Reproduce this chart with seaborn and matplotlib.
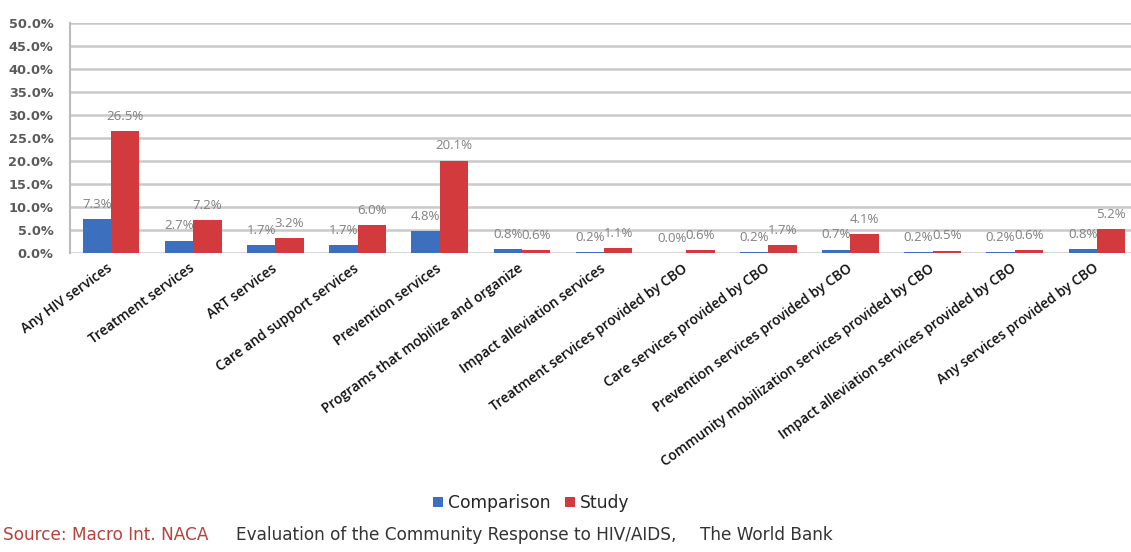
import matplotlib
matplotlib.use("Agg")
import matplotlib.pyplot as plt
from matplotlib.ticker import MultipleLocator, FuncFormatter
import seaborn as sns
import pandas as pd

# Share of respondents receiving each type of service
categories = [
    "Any HIV services",
    "Treatment services",
    "ART services",
    "Care and support services",
    "Prevention services",
    "Programs that mobilize and organize",
    "Impact alleviation services",
    "Treatment services provided by CBO",
    "Care services provided by CBO",
    "Prevention services provided by CBO",
    "Community mobilization services provided by CBO",
    "Impact alleviation services provided by CBO",
    "Any services provided by CBO",
]
comparison = [7.3, 2.7, 1.7, 1.7, 4.8, 0.8, 0.2, 0.0, 0.2, 0.7, 0.2, 0.2, 0.8]
study = [26.5, 7.2, 3.2, 6.0, 20.1, 0.6, 1.1, 0.6, 1.7, 4.1, 0.5, 0.6, 5.2]
groups = ["Comparison", "Study"]
colors = ["#3D6FBF", "#D23A3D"]

df = pd.DataFrame({
    "category": categories * 2,
    "value": comparison + study,
    "group": [groups[0]] * len(categories) + [groups[1]] * len(categories),
})

sns.set_theme(style="white")
plt.rcParams["font.family"] = ["Open Sans", "DejaVu Sans"]

fig = plt.figure(figsize=(11.31, 5.52), dpi=100)
# plot area runs slightly past the right edge of the canvas
ax = fig.add_axes([0.0619, 0.5417, 0.9443, 0.4166])

sns.barplot(data=df, x="category", y="value", hue="group", order=categories,
            hue_order=groups, palette=colors, width=0.69, saturation=1,
            linewidth=0, ax=ax, legend=True)

ax.set_ylim(0, 50)
ax.set_xlim(-0.5, len(categories) - 0.5)
ax.yaxis.set_major_locator(MultipleLocator(5))
ax.yaxis.set_major_formatter(FuncFormatter(lambda v, _: f"{v:.1f}%"))
ax.grid(axis="y", color="#C9C9C9", linewidth=1.8)
ax.set_axisbelow(True)
for side in ["top", "right", "bottom"]:
    ax.spines[side].set_visible(False)
ax.spines["left"].set_color("#BBBBBB")
ax.spines["left"].set_linewidth(1.5)
ax.set_xlabel("")
ax.set_ylabel("")
ax.tick_params(axis="y", length=0, pad=12, labelcolor="#5A5A5A")
ax.tick_params(axis="x", length=0, pad=10)
for lbl in ax.get_yticklabels():
    lbl.set_family("DejaVu Sans")
    lbl.set_fontweight("bold")
    lbl.set_fontsize(9.3)

ax.set_xticks(range(len(categories)))
ax.set_xticklabels(categories, rotation=36, ha="right", va="center",
                   rotation_mode="anchor", fontsize=9.9,
                   fontweight="semibold", color="#111111")

# Value labels above each bar
for container, vals in zip(ax.containers, [comparison, study]):
    ax.bar_label(container, labels=[f"{v:.1f}%" for v in vals], padding=6,
                 fontsize=9.5, color="#808080")

# Legend below the chart
ax.legend_.remove()
handles = [plt.Line2D([], [], marker="s", linestyle="", markersize=7,
                      markerfacecolor=c, markeredgewidth=0) for c in colors]
fig.legend(handles, groups, loc="center", bbox_to_anchor=(0.469, 0.089),
           ncol=2, frameon=False, handletextpad=0.2, columnspacing=0.7,
           handlelength=0.8, prop={"family": "DejaVu Sans", "size": 12.3})

# Source line
src_font = {"family": "DejaVu Sans", "size": 12.2}
fig.text(0.003, 0.031, "Source: Macro Int. NACA", color="#B8413A",
         va="center", **src_font)
fig.text(0.2087, 0.031, "Evaluation of the Community Response to HIV/AIDS,",
         color="#333333", va="center", **src_font)
fig.text(0.619, 0.031, "The World Bank", color="#333333", va="center",
         **src_font)

fig.savefig("out.png", dpi=100, facecolor="white")
